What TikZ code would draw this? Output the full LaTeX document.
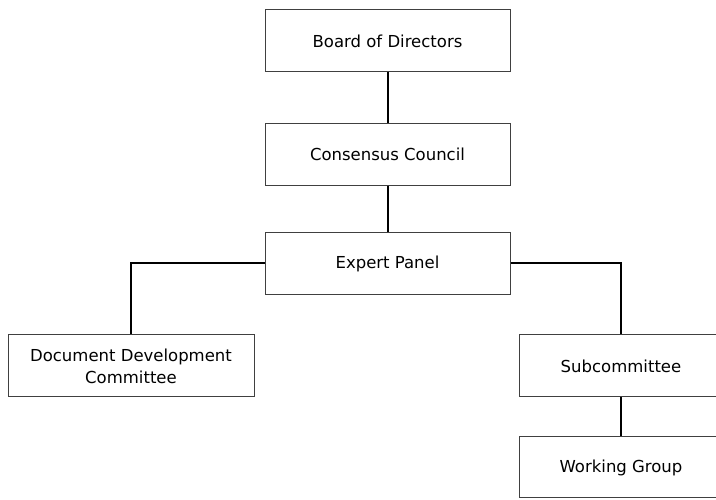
\documentclass[tikz,border=0pt]{standalone}
\usepackage{fontspec}
\setmainfont{DejaVu Sans}
\begin{document}
\begin{tikzpicture}[x=1bp,y=1bp,
  unit/.style={draw=black!75,line width=1bp,rectangle,inner sep=0pt,
    minimum height=62bp,align=center,font=\fontsize{16.5bp}{22bp}\selectfont},
  link/.style={line width=2bp,black}]
%%
\useasboundingbox (0bp,0bp) rectangle (716bp,500bp);
\node (board) at (387.5bp,459bp) [unit,minimum width=245bp] {Board of Directors};
  \node (council) at (387.5bp,345.5bp) [unit,minimum width=245bp] {Consensus Council};
  \node (expert) at (387.5bp,236.5bp) [unit,minimum width=245bp] {Expert Panel};
  \node (ddc) at (131bp,134bp) [unit,minimum width=246bp] {Document Development\\Committee};
  \node (sub) at (621bp,134bp) [unit,minimum width=204bp] {Subcommittee};
  \node (wg) at (621bp,32.5bp) [unit,minimum width=204bp,minimum height=61bp] {Working Group};
  \draw [link] (board) -- (council);
  \draw [link] (council) -- (expert);
  \draw [link] (expert.west) -| (ddc.north);
  \draw [link] (expert.east) -| (sub.north);
  \draw [link] (sub) -- (wg);
%
\end{tikzpicture}
\end{document}
